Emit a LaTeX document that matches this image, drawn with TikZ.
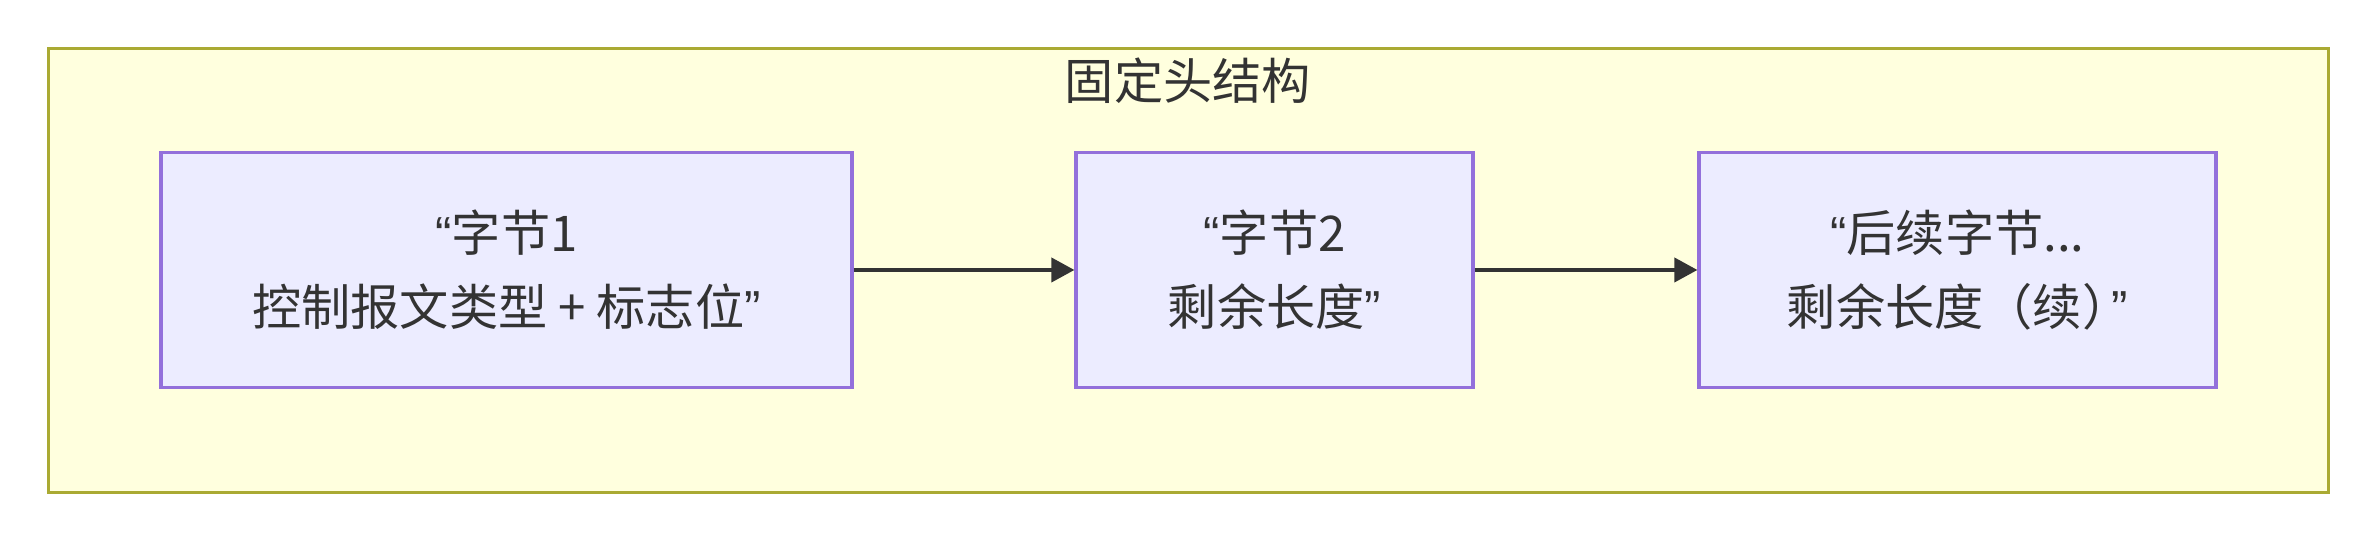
\documentclass[tikz,border=0pt]{standalone}
\usepackage{fontspec}
\setmainfont{Noto Sans CJK SC}
\newfontfamily\latfont{Liberation Sans}
\usepackage{tikz}
\usetikzlibrary{positioning,arrows.meta}

\definecolor{clusterfill}{HTML}{FFFFDE}
\definecolor{clusterline}{HTML}{AAAA33}
\definecolor{nodefill}{HTML}{ECECFF}
\definecolor{nodeline}{HTML}{9370DB}
\definecolor{inkgray}{HTML}{333333}

\newcommand{\oqt}{{\latfont “}}
\newcommand{\cqt}{{\latfont ”}}

\begin{document}
\begin{tikzpicture}[
  byte/.style={rectangle, draw=nodeline, fill=nodefill, line width=0.9pt, minimum height=2.35cm, align=center, text=inkgray, font=\fontsize{14}{21}\selectfont},
  arrow/.style={-{Triangle[length=2.3mm, width=2.4mm]}, line width=1.1pt, draw=inkgray}
]
  \useasboundingbox (0,0) rectangle (23.77,5.41);
  \draw[draw=clusterline, fill=clusterfill, line width=0.9pt] (0.485,0.483) rectangle (23.286,4.925);
  \node[text=inkgray, font=\fontsize{14}{21}\selectfont] (title) at (11.88,4.60) {固定头结构};

  \node[byte, minimum width=6.91cm] (byte1) at (5.065,2.71) {\oqt 字节1\\控制报文类型 + 标志位\cqt};
  \node[byte, minimum width=3.97cm] (byte2) at (12.745,2.71) {\oqt 字节2\\剩余长度\cqt};
  \node[byte, minimum width=5.17cm] (byterest) at (19.575,2.71) {\oqt 后续字节...\\剩余长度（续）\kern-0.4em\cqt};

  \draw[arrow] (byte1) -- (byte2);
  \draw[arrow] (byte2) -- (byterest);
\end{tikzpicture}
\end{document}
